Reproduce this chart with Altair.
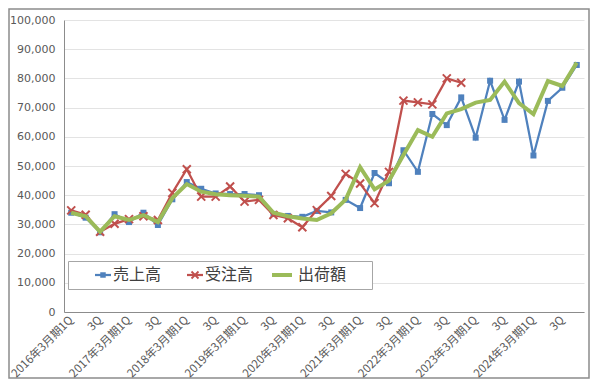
import altair as alt
import pandas as pd

years = [2016, 2017, 2018, 2019, 2020, 2021, 2022, 2023, 2024]
quarters = ["1Q", "2Q", "3Q", "4Q"]
categories = [f"{y}年3月期{q}" for y in years for q in quarters]

series_names = ["売上高", "受注高", "出荷額"]
colors = ["#4F81BD", "#C0504D", "#9BBB59"]

sales = [34000, 32300, 27300, 33500, 30800, 34000, 29800, 38600, 44500, 42200,
         40600, 40400, 40400, 40000, 33600, 32900, 32600, 34600, 34100, 38400,
         35600, 47600, 44100, 55400, 48000, 67800, 64000, 73500, 59700, 79200,
         65800, 78900, 53600, 72300, 76800, 84600]
orders = [34800, 33300, 27500, 30200, 31800, 32800, 31500, 40800, 48900, 39500,
          39500, 43000, 37800, 38400, 33200, 32100, 29000, 34900, 39700, 47300,
          44000, 37300, 48000, 72400, 71800, 71100, 80000, 78500]
shipments = [34000, 32800, 27500, 32800, 31500, 33200, 30800, 39000, 43800, 41200,
             40300, 40000, 39800, 39500, 34000, 32800, 32000, 31500, 33800, 38500,
             49600, 42000, 45000, 53800, 62300, 60000, 68000, 69500, 71700, 72600,
             78900, 71500, 67800, 79100, 77400, 85400]
y_ticks = list(range(0, 100001, 10000))


def frame(vals, name):
    return pd.DataFrame({"q": categories[:len(vals)], "v": vals, "s": name})


W, H = 520, 292

x_enc = alt.X(
    "q:O",
    scale=alt.Scale(type="point", padding=0.5, domain=categories),
    axis=alt.Axis(
        title=None, labelAngle=315, labelAlign="right", labelBaseline="middle",
        labelPadding=6, ticks=False, tickSize=0, domainColor="#8c8c8c",
        domainWidth=1, labelFont="Noto Sans CJK JP", labelFontSize=11.5,
        labelColor="#595959", labelOverlap=False, grid=False,
        labelExpr="slice(datum.label, -2) == '1Q' ? datum.label : (slice(datum.label, -2) == '3Q' ? '3Q' : '')",
    ),
)
y_enc = alt.Y(
    "v:Q",
    scale=alt.Scale(domain=[0, 100000], nice=False),
    axis=alt.Axis(
        title=None, values=y_ticks, format=",.0f", ticks=False, tickSize=0,
        labelPadding=9, domainColor="#8c8c8c", domainWidth=1,
        gridColor="#e3e3e3", gridWidth=1, labelFont="DejaVu Sans",
        labelFontSize=11, labelColor="#595959",
    ),
)

blue_df = frame(sales, series_names[0])
red_df = frame(orders, series_names[1])
green_df = frame(shipments, series_names[2])

blue_line = alt.Chart(blue_df).mark_line(color=colors[0], strokeWidth=2.25).encode(x=x_enc, y=y_enc)
blue_pts = alt.Chart(blue_df).mark_point(shape="square", filled=True, size=36, color=colors[0], opacity=1).encode(x=x_enc, y=y_enc)
xshape = "M-1,-1L1,1M1,-1L-1,1"
red_line = alt.Chart(red_df).mark_line(color=colors[1], strokeWidth=2.25).encode(x=x_enc, y=y_enc)
red_pts = alt.Chart(red_df).mark_point(shape=xshape, filled=False, size=64, strokeWidth=2, color=colors[1], opacity=1).encode(x=x_enc, y=y_enc)
green_line = alt.Chart(green_df).mark_line(color=colors[2], strokeWidth=4).encode(x=x_enc, y=y_enc)

one = pd.DataFrame({"a": [0]})

border = alt.Chart(one).mark_rect(fillOpacity=0, stroke="#8c8c8c", strokeWidth=1.5).encode(
    x=alt.value(-55), x2=alt.value(W + 5), y=alt.value(-11), y2=alt.value(H + 66))

legend_box = alt.Chart(one).mark_rect(fill="white", stroke="#a6a6a6", strokeWidth=1).encode(
    x=alt.value(4.5), x2=alt.value(308.5), y=alt.value(241.5), y2=alt.value(269.5))

legend_layers = [legend_box]
ly = 255
item_x = [31, 123, 208]
line_len = [16, 16, 20]
text_off = [18, 18, 26]
for i, name in enumerate(series_names):
    x0 = item_x[i]
    legend_layers.append(
        alt.Chart(one).mark_rule(color=colors[i], strokeWidth=4 if i == 2 else 2.25).encode(
            x=alt.value(x0), x2=alt.value(x0 + line_len[i]), y=alt.value(ly)))
    if i == 0:
        legend_layers.append(alt.Chart(one).mark_point(shape="square", filled=True, size=30, color=colors[0], opacity=1).encode(
            x=alt.value(x0 + 8), y=alt.value(ly)))
    if i == 1:
        legend_layers.append(alt.Chart(one).mark_point(shape=xshape, filled=False, size=49, strokeWidth=1.8, color=colors[1], opacity=1).encode(
            x=alt.value(x0 + 8), y=alt.value(ly)))
    legend_layers.append(
        alt.Chart(pd.DataFrame({"t": [name]})).mark_text(
            align="left", baseline="middle", font="Noto Sans CJK JP", fontSize=16, color="#404040").encode(
            text="t:N", x=alt.value(x0 + text_off[i]), y=alt.value(ly)))

chart = alt.layer(
    border, blue_line, blue_pts, red_line, red_pts, green_line, *legend_layers
).properties(
    width=W, height=H,
    autosize=alt.AutoSizeParams(type="none"),
    padding={"left": 56, "top": 12, "right": 6, "bottom": 68},
    background="white",
).configure_view(strokeWidth=0)

chart.save("out.html", embed_options={"renderer": "svg", "actions": False})
